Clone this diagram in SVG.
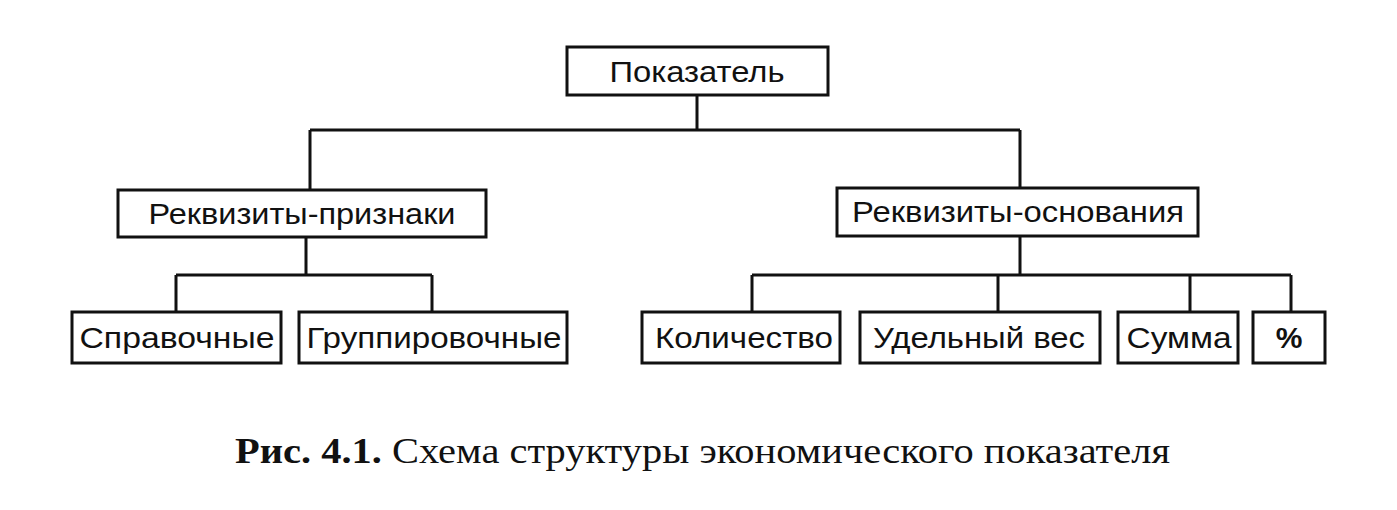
<svg xmlns="http://www.w3.org/2000/svg" width="1397" height="510" viewBox="0 0 1397 510">
<style>
.b{fill:#fff;stroke:#111;stroke-width:3}
.t{font-family:"Liberation Sans",Arial,sans-serif;font-size:30px;fill:#111;text-anchor:middle}
.c{fill:none;stroke:#111;stroke-width:3}
</style>
<rect width="1397" height="510" fill="#fff"/>
<g id="connectors">
<path class="c" d="M697 95V130M310 130H1020M310 130V190M1020 130V188"/>
<path class="c" d="M306 237V275M176 275H432M176 275V312M432 275V312"/>
<path class="c" d="M1020 236V275M752 275H1291M752 275V312M998 275V312M1190 275V312M1291 275V312"/>
</g>
<g id="n0"><rect class="b" x="567" y="47" width="261" height="48"/><text class="t" x="697" y="82" textLength="175" lengthAdjust="spacingAndGlyphs">Показатель</text></g>
<g id="n1"><rect class="b" x="118" y="190" width="368" height="47"/><text class="t" x="302" y="224" textLength="307" lengthAdjust="spacingAndGlyphs">Реквизиты-признаки</text></g>
<g id="n2"><rect class="b" x="837" y="188" width="361" height="48"/><text class="t" x="1018" y="222" textLength="332" lengthAdjust="spacingAndGlyphs">Реквизиты-основания</text></g>
<g id="n3"><rect class="b" x="72" y="312" width="209" height="51"/><text class="t" x="177" y="348" textLength="195" lengthAdjust="spacingAndGlyphs">Справочные</text></g>
<g id="n4"><rect class="b" x="299" y="312" width="268" height="51"/><text class="t" x="434" y="348" textLength="255" lengthAdjust="spacingAndGlyphs">Группировочные</text></g>
<g id="n5"><rect class="b" x="642" y="312" width="198" height="51"/><text class="t" x="744" y="348" textLength="178" lengthAdjust="spacingAndGlyphs">Количество</text></g>
<g id="n6"><rect class="b" x="860" y="312" width="240" height="51"/><text class="t" x="979" y="348" textLength="212" lengthAdjust="spacingAndGlyphs">Удельный вес</text></g>
<g id="n7"><rect class="b" x="1118" y="312" width="120" height="51"/><text class="t" x="1179" y="348" textLength="105" lengthAdjust="spacingAndGlyphs">Сумма</text></g>
<g id="n8"><rect class="b" x="1253" y="312" width="72" height="51"/><text class="t" x="1289" y="348" font-weight="bold">%</text></g>
<text x="235" y="463" font-family="Liberation Serif,Times New Roman,serif" font-size="36" fill="#111" textLength="935" lengthAdjust="spacingAndGlyphs"><tspan font-weight="bold">Рис. 4.1.</tspan> Схема структуры экономического показателя</text>
</svg>
